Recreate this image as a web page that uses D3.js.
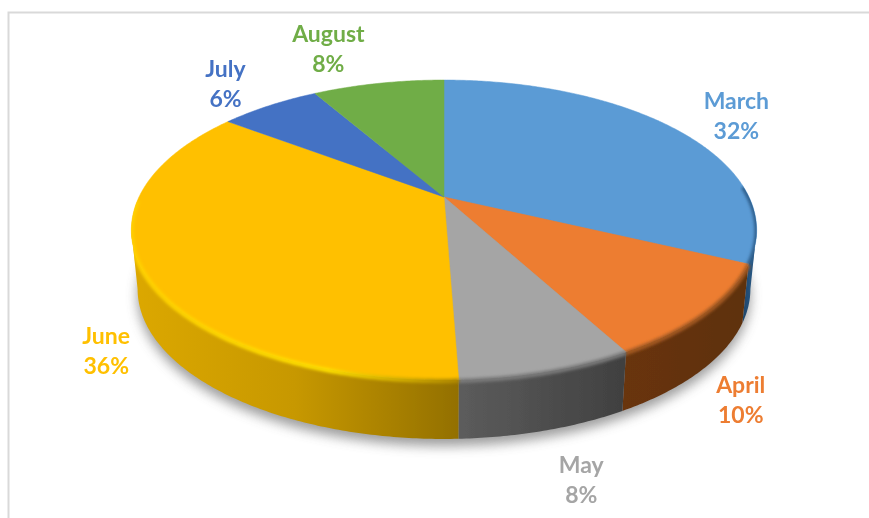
<!DOCTYPE html>
<html>
<head>
<meta charset="utf-8">
<script src="https://cdnjs.cloudflare.com/ajax/libs/d3/7.8.5/d3.min.js"></script>
<style>
html,body{margin:0;padding:0;background:#fff;}
svg{display:block;}
text{font-family:Lato,"Open Sans",sans-serif;font-weight:700;font-size:23px;}
</style>
</head>
<body>
<svg id="chart" width="869" height="518"></svg>
<script>
// data
const months=["March","April","May","June","July","August"];
const shares=[32,10,7.4,35.8,6.4,8.4];//slice sizes as drawn
const percentLabels=["32%","10%","8%","36%","6%","8%"];//labels as printed

// looks
const topColors=["#5b9bd5","#ed7d31","#a5a5a5","#ffc000","#4472c4","#70ad47"];
const sideLeft=["#1d4468","#693410","#5c5c5c","#dca800","#2a4a80","#44702a"];
const sideRight=["#2d5f8e","#5e3110","#404040","#937000","#2a4a80","#44702a"];
const rimGlow=["#2f5f8c","#a55a20","#7a7a7a","#ffe000","#4472c4","#70ad47"];
const labelNudge=[[62,-13],[35,88],[34,108],[-37,80],[-44,-22],[-50,-34]];

const cx=444,cy=197,R=305,B=142.7,persp=-0.22,depth=59,bottomScale=0.98;
const TAU=Math.PI*2;

// circle in the table plane -> screen, angle clockwise from the back
function project(a,drop,sc){
	const u=Math.sin(a),v=-Math.cos(a),d=1+persp*v;
	return [cx+R*(sc||1)*u/d,cy+(drop||0)+B*v/d];
}
function arcPts(a0,a1,drop,sc){
	const n=Math.max(2,Math.ceil((a1-a0)/0.01));
	return d3.range(n+1).map(function(i){return project(a0+(a1-a0)*i/n,drop,sc);});
}
const line=d3.line();

const svg=d3.select("#chart");
const defs=svg.append("defs");
[["blur1",1.7],["shadow",6],["soft",0.4],["textSoft",0.3]].forEach(function(f){
	defs.append("filter").attr("id",f[0])
		.attr("x","-20%").attr("y","-20%").attr("width","140%").attr("height","140%")
		.append("feGaussianBlur").attr("stdDeviation",f[1]);
});

// frame
svg.append("path").attr("d",line([[8.5,518],[8.5,12.5],[869,12.5]]))
	.attr("fill","none").attr("stroke","#d9d9d9").attr("stroke-width",2);

const pie=d3.pie().sort(null).value(function(d){return d;});
const arcs=pie(shares);

// shadow under the disc
svg.append("path")
	.attr("d",line(arcPts(0,TAU,depth+7,bottomScale))+"Z")
	.attr("fill","#8c8c8c").attr("opacity",0.85).attr("filter","url(#shadow)");

// side wall, only the part of the rim facing us
const frontStart=Math.acos(-0.22),frontEnd=TAU-frontStart;
const sides=svg.append("g");
arcs.forEach(function(d,i){
	const a0=Math.max(d.startAngle,frontStart),a1=Math.min(d.endAngle,frontEnd);
	if(a1<=a0)return;
	const topEdge=arcPts(a0,a1,0,1),botEdge=arcPts(a0,a1,depth,bottomScale).reverse();
	const xs=topEdge.concat(botEdge).map(function(p){return p[0];});
	const id="side"+i,g=defs.append("linearGradient").attr("id",id)
		.attr("gradientUnits","userSpaceOnUse")
		.attr("x1",d3.min(xs)).attr("x2",d3.max(xs)).attr("y1",0).attr("y2",0);
	g.append("stop").attr("offset",0).attr("stop-color",sideLeft[i]);
	if(i==3)g.append("stop").attr("offset",0.5).attr("stop-color","#c79800");
	g.append("stop").attr("offset",1).attr("stop-color",sideRight[i]);
	sides.append("path").attr("d",line(topEdge.concat(botEdge))+"Z")
		.attr("fill","url(#"+id+")").attr("filter","url(#soft)");
});

// top face
svg.append("g").selectAll("path").data(arcs).enter().append("path")
	.attr("d",function(d){
		return line([[cx,cy]].concat(arcPts(d.startAngle,d.endAngle,0,1)))+"Z";
	})
	.attr("fill",function(d,i){return topColors[i];})
	.attr("stroke",function(d,i){return topColors[i];}).attr("stroke-width",0.5);

// bevel along the rim, kept inside the disc outline so it can't poke out
const clip=defs.append("clipPath").attr("id","discClip");
clip.append("path").attr("d",line(arcPts(0,TAU,0,1))+"Z");
clip.append("path").attr("d",line(arcPts(frontStart,frontEnd,0,1).concat(arcPts(frontStart,frontEnd,depth,bottomScale).reverse()))+"Z");
const bevel=svg.append("g").attr("clip-path","url(#discClip)");
arcs.forEach(function(d,i){
	const a0=Math.max(d.startAngle,frontStart-0.3),a1=Math.min(d.endAngle,frontEnd+0.2);
	if(a1<=a0)return;
	const pts=arcPts(a0,a1,1,1);
	const id="bevel"+i,xs=pts.map(function(p){return p[0];});
	const g=defs.append("linearGradient").attr("id",id).attr("gradientUnits","userSpaceOnUse")
		.attr("x1",d3.min(xs)).attr("x2",d3.max(xs)).attr("y1",0).attr("y2",0);
	if(i==3){
		g.append("stop").attr("offset",0).attr("stop-color","#ffd000");
		g.append("stop").attr("offset",0.6).attr("stop-color",rimGlow[i]);
		g.append("stop").attr("offset",1).attr("stop-color","#b08800");
	}else{
		g.append("stop").attr("offset",0).attr("stop-color",rimGlow[i]);
		g.append("stop").attr("offset",1).attr("stop-color",rimGlow[i]);
	}
	bevel.append("path").attr("d",line(pts))
		.attr("fill","none").attr("stroke","url(#"+id+")")
		.attr("stroke-width",4.5).attr("filter","url(#blur1)");
});

// labels
const labels=svg.append("g").attr("text-anchor","middle").attr("filter","url(#textSoft)");
arcs.forEach(function(d,i){
	const p=project((d.startAngle+d.endAngle)/2,0,1);
	const x=p[0]+labelNudge[i][0],y=p[1]+labelNudge[i][1];
	labels.append("text").attr("x",x).attr("y",y-7).attr("fill",topColors[i]).text(months[i]);
	labels.append("text").attr("x",x).attr("y",y+23).attr("fill",topColors[i]).text(percentLabels[i]);
});
</script>
</body>
</html>
